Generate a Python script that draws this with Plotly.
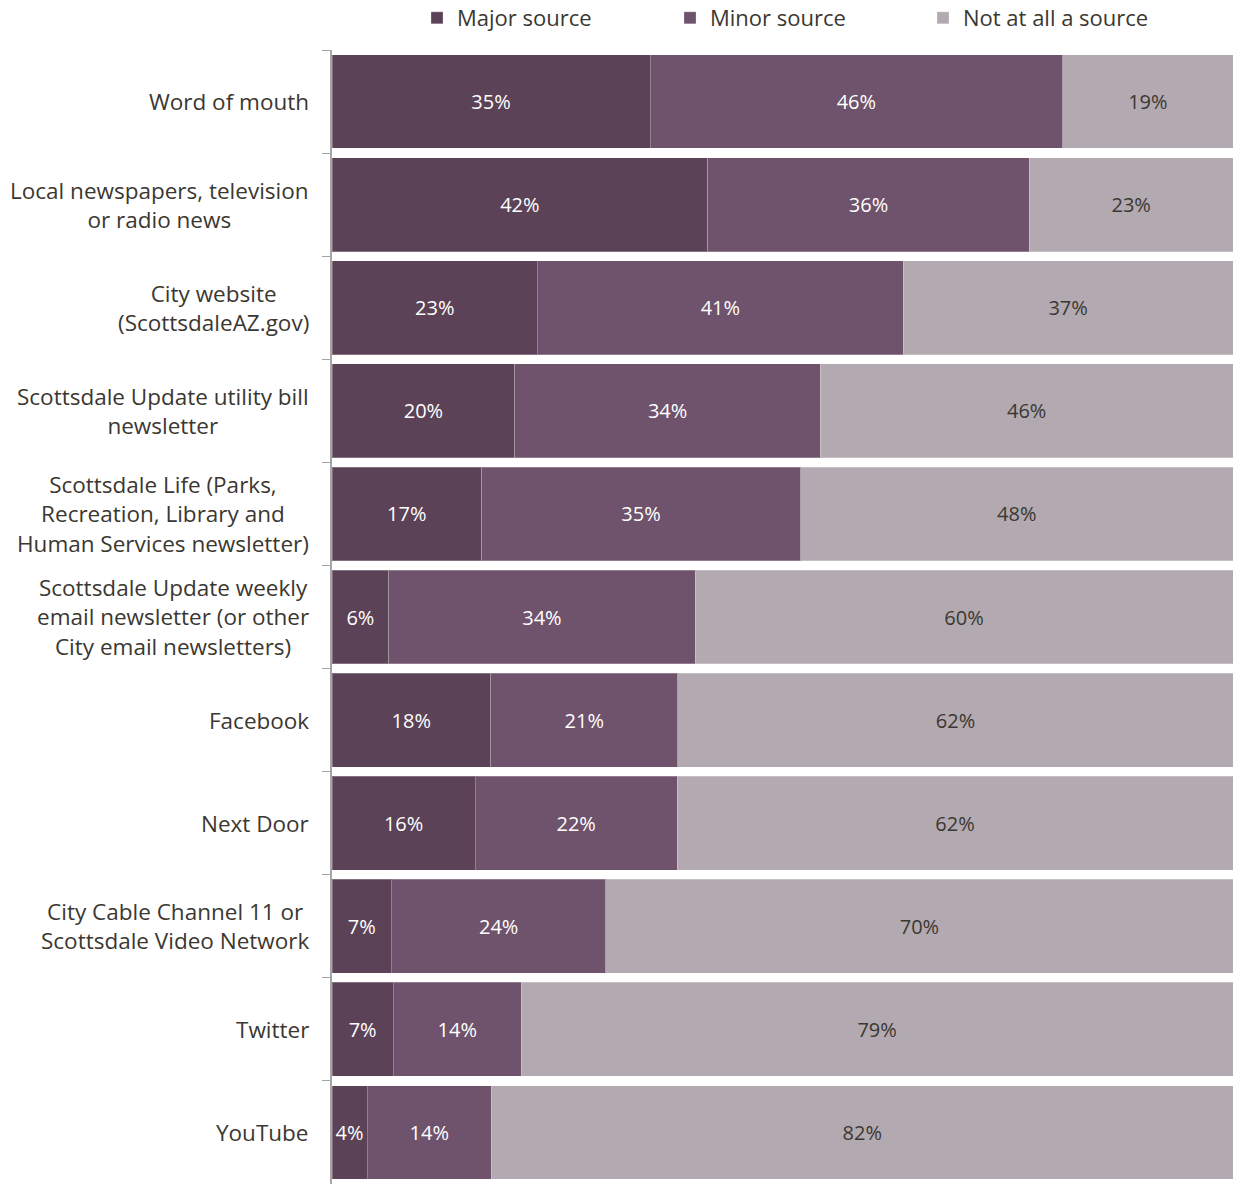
import plotly.graph_objects as go

categories = [
    "Word of mouth",
    "Local newspapers, television<br>or radio news",
    "City website<br>(ScottsdaleAZ.gov)",
    "Scottsdale Update utility bill<br>newsletter",
    "Scottsdale Life (Parks,<br>Recreation, Library and<br>Human Services newsletter)",
    "Scottsdale Update weekly<br>email newsletter (or other<br>City email newsletters)",
    "Facebook",
    "Next Door",
    "City Cable Channel 11 or<br>Scottsdale Video Network",
    "Twitter",
    "YouTube",
]
major = [35.3, 41.7, 22.8, 20.3, 16.6, 6.3, 17.6, 15.9, 6.6, 6.8, 3.9]
minor = [45.8, 35.7, 40.6, 33.9, 35.4, 34.0, 20.8, 22.4, 23.8, 14.2, 13.8]
not_at_all = [18.9, 22.6, 36.6, 45.8, 48.0, 59.7, 61.6, 61.7, 69.6, 79.0, 82.3]
series_names = ["Major source", "Minor source", "Not at all a source"]

colors = ["#5B4257", "#6F526B", "#B2AAB0"]
label_colors = ["#FFFFFF", "#FFFFFF", "#3B3731"]
FONT = "Open Sans, Roboto, sans-serif"
TXT = "#3B3731"

W, H = 1233, 1184
L, T = 332, 50

fig = go.Figure()
for name, vals, col, lc in zip(series_names, [major, minor, not_at_all], colors, label_colors):
    fig.add_trace(go.Bar(
        name=name,
        y=categories,
        x=vals,
        orientation="h",
        marker=dict(color=col, line=dict(color="rgba(255,255,255,0.25)", width=1)),
        text=[f"{v:.0f}%" for v in vals],
        textposition="inside",
        insidetextanchor="middle",
        textangle=0,
        constraintext="none",
        textfont=dict(family=FONT, size=20, color=lc),
        hoverinfo="skip",
    ))

for c in categories:
    fig.add_annotation(
        x=0, xref="paper", xanchor="right", xshift=-21,
        y=c, yref="y", yanchor="middle",
        text=c, showarrow=False, align="center",
        font=dict(family=FONT, size=22.5, color=TXT),
    )

fig.update_layout(
    barmode="stack",
    width=W, height=H,
    margin=dict(l=L, r=0, t=T, b=0, pad=0, autoexpand=False),
    plot_bgcolor="white",
    paper_bgcolor="white",
    bargap=0.09,
    showlegend=True,
    legend=dict(
        orientation="h",
        x=417 / W, xref="container", xanchor="left",
        y=1 - 18 / H, yref="container", yanchor="middle",
        entrywidth=208, entrywidthmode="pixels",
        font=dict(family=FONT, size=22, color=TXT),
        itemwidth=30,
        traceorder="normal",
        bgcolor="rgba(0,0,0,0)",
    ),
    xaxis=dict(range=[0, 100], visible=False, fixedrange=True),
    yaxis=dict(
        autorange="reversed",
        showticklabels=False,
        tickson="boundaries",
        ticks="outside",
        ticklen=8,
        tickcolor="#A6A6A6",
        showline=True,
        linecolor="#A6A6A6",
        linewidth=2,
        showgrid=False,
    ),
)

fig.write_html(
    "out.html",
    config={"displayModeBar": False},
    post_script="document.body.style.margin='0';document.body.style.overflow='hidden';",
)
